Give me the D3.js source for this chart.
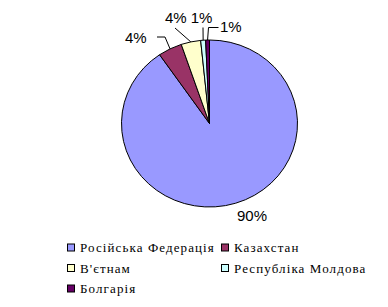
<!DOCTYPE html>
<html>
<head>
<meta charset="utf-8">
<script src="https://cdn.jsdelivr.net/npm/d3@7"></script>
<style>
  body { margin: 0; background: #fff; }
  .pct { font-family: "Liberation Sans", Arial, sans-serif; font-size: 15px; fill: #000; }
  .leg { font-family: "Liberation Serif", "Times New Roman", serif; font-size: 13px; letter-spacing: 1.1px; fill: #000; }
</style>
</head>
<body>
<svg id="chart" width="388" height="307"></svg>
<script>
// data
var categories = ["Російська Федерація", "Казахстан", "В'єтнам", "Республіка Молдова", "Болгарія"];
var values = [90.4, 4.4, 3.6, 0.9, 0.7];
var pctLabels = ["90%", "4%", "4%", "1%", "1%"];
var colors = ["#9999FF", "#993366", "#FFFFCC", "#CCFFFF", "#660066"];

// layout
var cx = 209.5, cy = 123.5, ry = 83.5, rx = 88;
// label text position relative to centre, and leader start/elbow
var labelPos = [[27.5, 97.5], [-84.5, -80.5], [-44.5, -100.5], [-18.8, -100.5], [10.5, -91.5]];
var leaderPts = [null, [[-52.5, -86.5], [-44.5, -86.5]], [[-34.5, -95.5]], [[-6.5, -96]], [[9, -96], [-1, -96]]];

var svg = d3.select("#chart");

var pie = d3.pie().sort(null).value(function(d) { return d; });
var arcs = pie(values);
var arc = d3.arc().innerRadius(0).outerRadius(ry);

var g = svg.append("g")
    .attr("transform", "translate(" + cx + "," + cy + ") scale(" + (rx / ry) + ",1)");

g.selectAll("path.slice")
    .data(arcs)
    .enter().append("path")
    .attr("class", "slice")
    .attr("d", arc)
    .attr("fill", function(d, i) { return colors[i]; })
    .attr("stroke", "#000")
    .attr("stroke-width", 1)
    .attr("vector-effect", "non-scaling-stroke")
    .attr("stroke-linejoin", "round");

// leader lines, end on the rim at mid angle
var lab = svg.append("g").attr("transform", "translate(" + cx + "," + cy + ")");
arcs.forEach(function(d, i) {
    if (!leaderPts[i]) return;
    var mid = (d.startAngle + d.endAngle) / 2;
    var end = [rx * Math.sin(mid), -ry * Math.cos(mid)];
    var pts = leaderPts[i].concat([end]);
    lab.append("path")
        .attr("d", d3.line()(pts))
        .attr("fill", "none")
        .attr("stroke", "#000")
        .attr("stroke-width", 1);
});

lab.selectAll("text.pct")
    .data(pctLabels)
    .enter().append("text")
    .attr("class", "pct")
    .attr("x", function(d, i) { return labelPos[i][0]; })
    .attr("y", function(d, i) { return labelPos[i][1]; })
    .text(function(d) { return d; });

// legend
var legX = [67, 221], legY = [247.5, 268, 288.5];
var leg = svg.append("g");
categories.forEach(function(c, i) {
    var x = legX[i % 2], y = legY[Math.floor(i / 2)];
    leg.append("rect")
        .attr("x", x + 0.5).attr("y", y - 3.5)
        .attr("width", 7).attr("height", 7)
        .attr("fill", colors[i])
        .attr("stroke", "#000");
    leg.append("text")
        .attr("class", "leg")
        .attr("x", x + 13)
        .attr("y", y + 4.5)
        .text(c);
});
</script>
</body>
</html>
